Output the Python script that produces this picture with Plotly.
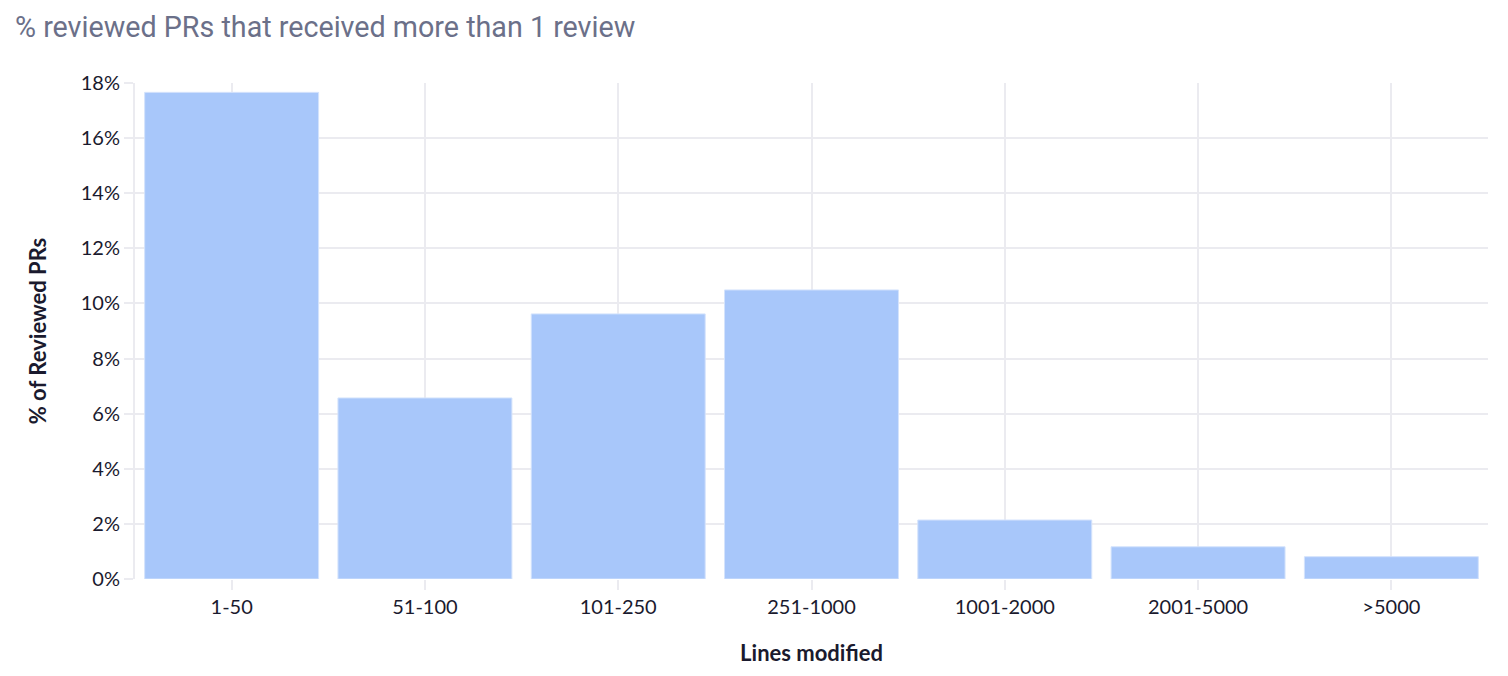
import plotly.graph_objects as go

categories = ["1-50", "51-100", "101-250", "251-1000", "1001-2000", "2001-5000", ">5000"]
values = [17.66, 6.57, 9.62, 10.49, 2.14, 1.17, 0.81]
y_ticks = [0, 2, 4, 6, 8, 10, 12, 14, 16, 18]
y_tick_labels = [f"{v}%" for v in y_ticks]

fig = go.Figure(
    go.Bar(
        x=categories,
        y=values,
        marker=dict(color="#a8c7fa", line=dict(color="#d4e3fc", width=1)),
        hoverinfo="x+y",
    )
)

fig.update_layout(
    width=1508,
    height=676,
    paper_bgcolor="white",
    plot_bgcolor="white",
    margin=dict(l=127, r=28, t=75, b=105),
    bargap=0.1,
    showlegend=False,
    title=dict(
        text="% reviewed PRs that received more than 1 review",
        x=7 / 1508, xref="container", xanchor="left",
        y=1 - 19 / 676, yref="container", yanchor="middle",
        font=dict(family="Roboto", size=28.7, color="#6b7089"),
    ),
    font=dict(family="Lato", size=20, color="#1a1a2e"),
)

fig.update_xaxes(
    type="category",
    showgrid=True, gridcolor="#ebebf0", gridwidth=2,
    showline=False,
    ticks="outside", ticklen=10, tickcolor="#ebebf0", tickwidth=2,
    tickfont=dict(family="Lato", size=20, color="#1a1a2e"),
    title=dict(text="<b>Lines modified</b>", font=dict(family="Lato", size=22, color="#1a1a2e"), standoff=28),
)

fig.update_yaxes(
    range=[0, 18],
    tickvals=y_ticks, ticktext=y_tick_labels,
    showgrid=True, gridcolor="#ebebf0", gridwidth=2,
    zeroline=False,
    showline=True, linecolor="#ebebf0", linewidth=2,
    ticks="outside", ticklen=9, tickcolor="#ebebf0", tickwidth=2,
    tickfont=dict(family="Lato", size=20, color="#1a1a2e"),
    title=dict(text="<b>% of Reviewed PRs</b>", font=dict(family="Lato", size=22, color="#1a1a2e"), standoff=28),
)

fig.write_html("out.html")
